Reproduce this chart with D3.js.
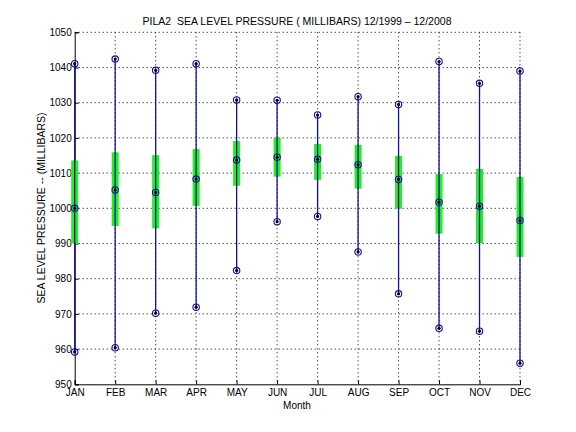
<!DOCTYPE html>
<html>
<head>
<meta charset="utf-8">
<script src="https://cdn.jsdelivr.net/npm/d3@7"></script>
<style>
  body { margin: 0; background: #fff; }
  svg { font-family: "Liberation Sans", Arial, sans-serif; }
</style>
</head>
<body>
<svg width="576" height="432"></svg>
<script>
// monthly sea level pressure stats
const months = ["JAN","FEB","MAR","APR","MAY","JUN","JUL","AUG","SEP","OCT","NOV","DEC"];
const maxVals  = [1041.1, 1042.4, 1039.2, 1041.1, 1030.8, 1030.7, 1026.5, 1031.7, 1029.5, 1041.7, 1035.5, 1039.0];
const minVals  = [959.2, 960.4, 970.2, 971.9, 982.3, 996.2, 997.7, 987.6, 975.7, 965.9, 965.1, 956.0];
const meanVals = [1000.0, 1005.2, 1004.5, 1008.3, 1013.7, 1014.5, 1013.9, 1012.4, 1008.2, 1001.7, 1000.6, 996.5];
const boxTop   = [1013.6, 1015.9, 1015.1, 1016.8, 1019.1, 1020.1, 1018.3, 1018.0, 1014.9, 1009.7, 1011.2, 1008.9];
const boxBot   = [990.0, 995.0, 994.3, 1000.7, 1006.4, 1009.0, 1008.1, 1005.6, 999.9, 992.8, 990.1, 986.2];
const yTicks = [950, 960, 970, 980, 990, 1000, 1010, 1020, 1030, 1040, 1050];

(function () {
const svg = d3.select("svg");
const pLeft = 74.7, pRight = 520, pTop = 32.3, pBottom = 384.3;

const x = d3.scalePoint().domain(months).range([pLeft, pRight]);
const y = d3.scaleLinear().domain([950, 1050]).range([pBottom, pTop]);

const data = months.map((m, i) => ({
  m, max: maxVals[i], min: minVals[i], mean: meanVals[i], hi: boxTop[i], lo: boxBot[i]
}));

// grid (dotted)
const grid = svg.append("g").attr("stroke", "#000").attr("stroke-width", 1)
  .attr("stroke-dasharray", "1,3");
grid.selectAll(".gy").data(yTicks.slice(1)).enter().append("line")
  .attr("x1", pLeft).attr("x2", pRight)
  .attr("y1", d => y(d)).attr("y2", d => y(d));
grid.selectAll(".gx").data(months.slice(1)).enter().append("line")
  .attr("x1", d => x(d)).attr("x2", d => x(d))
  .attr("y1", pTop).attr("y2", pBottom);

// axes
const yAxis = svg.append("g").attr("transform", `translate(${pLeft},0)`)
  .call(d3.axisLeft(y).tickValues(yTicks).tickSize(-4).tickPadding(3).tickFormat(d3.format("d")));
const xAxis = svg.append("g").attr("transform", `translate(0,${pBottom})`)
  .call(d3.axisBottom(x).tickSize(-4).tickPadding(3));
[yAxis, xAxis].forEach(a => {
  a.select(".domain").attr("stroke", "#000").attr("stroke-width", 1);
  a.selectAll(".tick line").attr("stroke", "#000");
  a.selectAll("text").attr("font-size", 10).attr("fill", "#000")
    .attr("font-family", "Liberation Sans, Arial, sans-serif");
});
xAxis.selectAll("text").attr("dy", "0.9em");

// green boxes
svg.append("g").selectAll("rect").data(data).enter().append("rect")
  .attr("x", d => x(d.m) - 3.5).attr("width", 7)
  .attr("y", d => y(d.hi)).attr("height", d => y(d.lo) - y(d.hi))
  .attr("fill", "#22ee22");

// range lines
svg.append("g").selectAll("line").data(data).enter().append("line")
  .attr("x1", d => x(d.m)).attr("x2", d => x(d.m))
  .attr("y1", d => y(d.max)).attr("y2", d => y(d.min))
  .attr("stroke", "#1010a0").attr("stroke-width", 1.3);

// markers: blue circles with black dot
const pts = [];
data.forEach(d => { pts.push([d.m, d.max]); pts.push([d.m, d.min]); pts.push([d.m, d.mean]); });
const mk = svg.append("g").selectAll("g").data(pts).enter().append("g")
  .attr("transform", d => `translate(${x(d[0])},${y(d[1])})`);
mk.append("circle").attr("r", 3.2).attr("fill", "none")
  .attr("stroke", "#1010a0").attr("stroke-width", 1.1);
mk.append("circle").attr("r", 1.6).attr("fill", "#000");

// texts
svg.append("text").attr("x", 297).attr("y", 25).attr("text-anchor", "middle")
  .attr("font-size", 10.5).text("PILA2  SEA LEVEL PRESSURE ( MILLIBARS) 12/1999 \u2013 12/2008")
  .style("white-space", "pre");
svg.append("text").attr("x", 297).attr("y", 409).attr("text-anchor", "middle")
  .attr("font-size", 10).text("Month");
svg.append("text").attr("transform", "translate(45,208) rotate(-90)")
  .attr("text-anchor", "middle").attr("font-size", 10.5)
  .text("SEA LEVEL PRESSURE -- (MILLIBARS)");
})();
</script>
</body>
</html>
